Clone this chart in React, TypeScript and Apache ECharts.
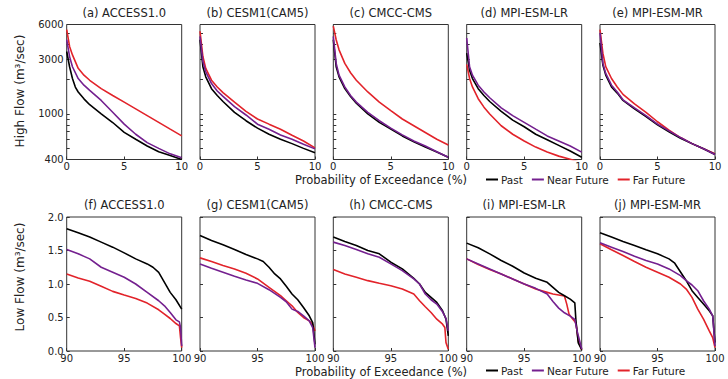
import React, { useEffect, useRef } from "react";
import * as echarts from "echarts";

// ---------- labels ----------
const SERIES_NAMES = ["Past", "Near Future", "Far Future"];
const HIGH_TITLES = ["(a) ACCESS1.0", "(b) CESM1(CAM5)", "(c) CMCC-CMS", "(d) MPI-ESM-LR", "(e) MPI-ESM-MR"];
const LOW_TITLES = ["(f) ACCESS1.0", "(g) CESM1(CAM5)", "(h) CMCC-CMS", "(i) MPI-ESM-LR", "(j) MPI-ESM-MR"];
const HIGH_Y_LABELS = [400, 1000, 3000, 6000];
const HIGH_Y_TICKS = [400, 500, 600, 700, 800, 900, 1000, 2000, 3000, 4000, 5000, 6000];
const LOW_Y_LABELS = [0, 0.5, 1, 1.5, 2];

// ---------- high flow (x: probability %, y: m3/sec) ----------
const aPast = [[0, 3490], [0.25, 2570], [0.5, 2030], [0.75, 1710], [1, 1550], [1.5, 1350], [2, 1200], [3, 1000], [4, 840], [5, 690], [6, 600], [7, 525], [8, 467], [9, 434], [10, 400]];
const aNear = [[0, 4420], [0.25, 3150], [0.5, 2570], [1, 2030], [1.5, 1775], [2, 1600], [3, 1307], [4, 1031], [5, 813], [6, 664], [7, 561], [8, 500], [9, 448], [10, 414]];
const aFar = [[0, 5420], [0.25, 3860], [0.5, 3260], [1, 2490], [1.5, 2170], [2, 1960], [3, 1657], [4, 1446], [5, 1264], [6, 1105], [7, 965], [8, 842], [9, 735], [10, 642]];

const bPast = [[0, 4420], [0.25, 2570], [0.5, 2100], [1, 1657], [1.5, 1446], [2, 1280], [3, 1031], [4, 871], [5, 750], [6, 664], [7, 600], [8, 550], [9, 500], [10, 457]];
const bNear = [[0, 4730], [0.25, 2850], [0.5, 2325], [1, 1834], [1.5, 1580], [2, 1418], [3, 1157], [4, 977], [5, 813], [6, 735], [7, 655], [8, 600], [9, 542], [10, 495]];
const bFar = [[0, 5240], [0.25, 3155], [0.5, 2489], [1, 1963], [1.5, 1714], [2, 1528], [3, 1264], [4, 1052], [5, 901], [6, 813], [7, 735], [8, 651], [9, 580], [10, 505]];

const cPast = [[0, 4420], [0.25, 2570], [0.5, 2100], [1, 1657], [1.5, 1418], [2, 1239], [3, 997], [4, 842], [5, 735], [6, 642], [7, 572], [8, 513], [9, 464], [10, 419]];
const cNear = [[0, 4730], [0.25, 2750], [0.5, 2170], [1, 1714], [1.5, 1446], [2, 1264], [3, 1031], [4, 871], [5, 750], [6, 655], [7, 580], [8, 524], [9, 467], [10, 419]];
const cFar = [[0, 5800], [0.25, 4420], [0.5, 3610], [1, 2750], [1.5, 2280], [2, 1963], [3, 1550], [4, 1264], [5, 1067], [6, 901], [7, 787], [8, 687], [9, 600], [10, 535]];

const dPast = [[0, 3380], [0.25, 2400], [0.5, 2030], [1, 1657], [1.5, 1446], [2, 1280], [3, 1052], [4, 882], [5, 771], [6, 664], [7, 594], [8, 531], [9, 474], [10, 419]];
const dNear = [[0, 4580], [0.25, 2570], [0.5, 2170], [1, 1775], [1.5, 1550], [2, 1380], [3, 1126], [4, 965], [5, 842], [6, 735], [7, 642], [8, 580], [9, 524], [10, 464]];
const dFar = [[0, 2700], [0.25, 2030], [0.5, 1714], [1, 1354], [1.5, 1143], [2, 997], [3, 787], [4, 664], [5, 580], [6, 513], [7, 464], [8, 428], [9, 402], [10, 375]];

const ePast = [[0, 4140], [0.25, 2665], [0.5, 2173], [1, 1714], [1.5, 1516], [2, 1307], [3, 1105], [4, 945], [5, 803], [6, 696], [7, 612], [8, 550], [9, 497], [10, 442]];
const eNear = [[0, 5070], [0.25, 2750], [0.5, 2247], [1, 1775], [1.5, 1550], [2, 1325], [3, 1126], [4, 965], [5, 813], [6, 711], [7, 621], [8, 550], [9, 497], [10, 442]];
const eFar = [[0, 5420], [0.25, 3375], [0.5, 2574], [1, 2032], [1.5, 1714], [2, 1477], [3, 1222], [4, 1031], [5, 853], [6, 720], [7, 621], [8, 550], [9, 497], [10, 449]];

// ---------- low flow (x: probability %, y: m3/sec) ----------
const fPast = [[90, 1.825], [91, 1.765], [92, 1.7], [93, 1.625], [94, 1.55], [95, 1.465], [96, 1.375], [97, 1.3], [97.5, 1.25], [98, 1.175], [98.5, 1.025], [99, 0.875], [99.5, 0.765], [100, 0.625]];
const fNear = [[90, 1.515], [91, 1.45], [92, 1.375], [93, 1.25], [94, 1.175], [95, 1.1], [96, 1.0], [97, 0.875], [98, 0.75], [98.5, 0.675], [99, 0.575], [99.5, 0.465], [99.8, 0.435], [99.9, 0.35], [100, 0.075]];
const fFar = [[90, 1.15], [91, 1.09], [92, 1.04], [93, 0.965], [94, 0.89], [95, 0.835], [96, 0.785], [97, 0.715], [98, 0.615], [98.5, 0.55], [99, 0.485], [99.5, 0.41], [99.8, 0.375], [99.9, 0.2], [100, 0.05]];

const gPast = [[90, 1.725], [91, 1.65], [92, 1.585], [93, 1.515], [94, 1.44], [95, 1.375], [95.5, 1.335], [96, 1.25], [96.5, 1.15], [97, 1.075], [97.5, 0.965], [98, 0.85], [98.5, 0.765], [99, 0.65], [99.5, 0.525], [99.8, 0.425], [100, 0.1]];
const gNear = [[90, 1.3], [91, 1.235], [92, 1.175], [93, 1.115], [94, 1.06], [95, 1.01], [96, 0.915], [97, 0.8], [97.5, 0.735], [98, 0.625], [98.5, 0.59], [99, 0.525], [99.5, 0.45], [99.8, 0.35], [100, 0.05]];
const gFar = [[90, 1.39], [91, 1.335], [92, 1.275], [93, 1.225], [94, 1.16], [95, 1.075], [96, 0.95], [97, 0.825], [97.5, 0.75], [98, 0.675], [98.5, 0.575], [99, 0.5], [99.5, 0.45], [99.8, 0.4], [100, 0.3]];

const hPast = [[90, 1.7], [91, 1.635], [92, 1.575], [93, 1.5], [94, 1.45], [95, 1.325], [96, 1.225], [97, 1.085], [97.5, 1.0], [98, 0.875], [98.5, 0.8], [99, 0.725], [99.5, 0.6], [99.8, 0.475], [100, 0.225]];
const hNear = [[90, 1.625], [91, 1.575], [92, 1.515], [93, 1.45], [94, 1.4], [95, 1.3], [96, 1.2], [97, 1.075], [97.5, 1.0], [98, 0.85], [98.5, 0.765], [99, 0.7], [99.5, 0.585], [99.8, 0.485], [100, 0.3]];
const hFar = [[90, 1.215], [91, 1.15], [92, 1.1], [93, 1.05], [94, 1.01], [95, 0.975], [96, 0.925], [97, 0.85], [97.5, 0.75], [98, 0.66], [98.5, 0.575], [99, 0.475], [99.5, 0.4], [99.7, 0.35], [99.8, 0.125], [100, 0.025]];

const iPast = [[90, 1.61], [91, 1.54], [92, 1.45], [93, 1.35], [94, 1.265], [95, 1.165], [96, 1.085], [97, 1.025], [97.5, 0.95], [98, 0.875], [98.5, 0.825], [99, 0.775], [99.4, 0.72], [99.5, 0.45], [99.7, 0.12], [100, 0.02]];
const iNear = [[90, 1.375], [91, 1.3], [92, 1.225], [93, 1.15], [94, 1.075], [95, 1.0], [96, 0.935], [97, 0.85], [97.5, 0.74], [98, 0.64], [98.5, 0.57], [99, 0.52], [99.4, 0.47], [99.6, 0.3], [100, 0.03]];
const iFar = [[90, 1.375], [91, 1.29], [92, 1.215], [93, 1.15], [94, 1.075], [95, 1.0], [96, 0.925], [97, 0.875], [97.5, 0.85], [98, 0.835], [98.5, 0.82], [98.7, 0.7], [98.9, 0.55], [99.2, 0.48], [99.5, 0.42], [99.7, 0.15], [100, 0.02]];

const jPast = [[90, 1.765], [91, 1.7], [92, 1.635], [93, 1.575], [94, 1.51], [95, 1.45], [96, 1.375], [96.5, 1.31], [97, 1.18], [97.5, 1.05], [98, 0.9], [98.5, 0.8], [99, 0.7], [99.5, 0.6], [99.8, 0.525], [100, 0.125]];
const jNear = [[90, 1.615], [91, 1.55], [92, 1.485], [93, 1.415], [94, 1.35], [95, 1.3], [96, 1.225], [97, 1.125], [97.5, 1.05], [98, 0.985], [98.5, 0.9], [99, 0.75], [99.5, 0.625], [99.8, 0.525], [100, 0.075]];
const jFar = [[90, 1.6], [91, 1.51], [92, 1.425], [93, 1.335], [94, 1.25], [95, 1.175], [96, 1.1], [97, 1.0], [97.5, 0.925], [98, 0.8], [98.5, 0.625], [99, 0.475], [99.5, 0.3], [99.8, 0.2], [100, 0.05]];

const HIGH_PANELS = [
  [aPast, aNear, aFar],
  [bPast, bNear, bFar],
  [cPast, cNear, cFar],
  [dPast, dNear, dFar],
  [ePast, eNear, eFar],
];
const LOW_PANELS = [
  [fPast, fNear, fFar],
  [gPast, gNear, gFar],
  [hPast, hNear, hFar],
  [iPast, iNear, iFar],
  [jPast, jNear, jFar],
];

const COLORS = ["#000000", "#74208f", "#e2232a"];
const FONT = "DejaVu Sans";
const PANEL_LEFT = [66.7, 200, 333.3, 466.7, 600];
const PANEL_W = 115;
const TOP_ROW = { top: 24.5, height: 135 };
const BOT_ROW = { top: 217, height: 134 };

const lg = (v: number) => Math.log10(v);

function buildOption() {
  const grid: any[] = [];
  const xAxis: any[] = [];
  const yAxis: any[] = [];
  const series: any[] = [];
  const title: any[] = [];

  for (let row = 0; row < 2; row++) {
    const r = row === 0 ? TOP_ROW : BOT_ROW;
    for (let p = 0; p < 5; p++) {
      const idx = row * 5 + p;
      grid.push({
        left: PANEL_LEFT[p],
        top: r.top,
        width: PANEL_W,
        height: r.height,
        show: true,
        borderColor: "#333",
        borderWidth: 1,
        backgroundColor: "transparent",
        containLabel: false,
      });
      title.push({
        text: row === 0 ? HIGH_TITLES[p] : LOW_TITLES[p],
        left: PANEL_LEFT[p] + PANEL_W / 2,
        top: r.top - 18,
        textAlign: "center",
        textStyle: { fontFamily: FONT, fontSize: 11.5, fontWeight: "normal", color: "#222" },
        padding: 0,
      });
      xAxis.push({
        type: "value",
        gridIndex: idx,
        min: row === 0 ? 0 : 90,
        max: row === 0 ? 10 : 100,
        interval: 5,
        axisLine: { show: false },
        axisTick: { show: true, inside: true, length: 3, lineStyle: { color: "#333" } },
        splitLine: { show: false },
        axisLabel: { fontFamily: FONT, fontSize: 10, color: "#222", margin: 2 },
      });
      if (row === 0) {
        yAxis.push({
          type: "value",
          gridIndex: idx,
          min: lg(400),
          max: lg(6000),
          axisLine: { show: false },
          splitLine: { show: false },
          axisTick: {
            show: true,
            inside: true,
            length: 3,
            lineStyle: { color: "#333" },
            customValues: HIGH_Y_TICKS.map(lg),
          },
          axisLabel: {
            show: p === 0,
            customValues: HIGH_Y_LABELS.map(lg),
            formatter: (v: number) => String(Math.round(Math.pow(10, v))),
            fontFamily: FONT,
            fontSize: 10,
            color: "#222",
            margin: 3,
          },
        });
      } else {
        yAxis.push({
          type: "value",
          gridIndex: idx,
          min: 0,
          max: 2,
          interval: 0.5,
          axisLine: { show: false },
          splitLine: { show: false },
          axisTick: { show: true, inside: true, length: 3, lineStyle: { color: "#333" } },
          axisLabel: {
            show: p === 0,
            customValues: LOW_Y_LABELS,
            formatter: (v: number) => v.toFixed(1),
            fontFamily: FONT,
            fontSize: 10,
            color: "#222",
            margin: 3,
          },
        });
      }
      const panel = row === 0 ? HIGH_PANELS[p] : LOW_PANELS[p];
      panel.forEach((pts, k) => {
        series.push({
          type: "line",
          name: SERIES_NAMES[k],
          xAxisIndex: idx,
          yAxisIndex: idx,
          data: pts.map(([x, y]) => [x, row === 0 ? lg(y) : y]),
          showSymbol: false,
          symbol: "none",
          clip: true,
          lineStyle: { color: COLORS[k], width: 1.6 },
          itemStyle: { color: COLORS[k] },
          z: k === 0 ? 4 : 3 - k + 2,
        });
      });
    }
  }

  const legendBase = {
    data: SERIES_NAMES,
    orient: "horizontal",
    left: 486,
    icon: "rect",
    itemWidth: 12,
    itemHeight: 2,
    itemGap: 9,
    selectedMode: false,
    padding: 0,
    textStyle: { fontFamily: FONT, fontSize: 10.5, color: "#222", padding: [0, 0, 0, -2] },
  };

  return {
    animation: false,
    backgroundColor: "#ffffff",
    textStyle: { fontFamily: FONT },
    title,
    grid,
    xAxis,
    yAxis,
    series,
    legend: [
      { ...legendBase, top: 174 },
      { ...legendBase, top: 365 },
    ],
    graphic: [
      {
        type: "text",
        x: 20,
        y: 91,
        rotation: Math.PI / 2,
        style: { text: "High Flow (m³/sec)", font: `12px "${FONT}"`, fill: "#222", align: "center", verticalAlign: "middle" },
      },
      {
        type: "text",
        x: 20,
        y: 277,
        rotation: Math.PI / 2,
        style: { text: "Low Flow (m³/sec)", font: `12px "${FONT}"`, fill: "#222", align: "center", verticalAlign: "middle" },
      },
      {
        type: "text",
        x: 381,
        y: 180,
        style: { text: "Probability of Exceedance (%)", font: `11.5px "${FONT}"`, fill: "#222", align: "center", verticalAlign: "middle" },
      },
      {
        type: "text",
        x: 381,
        y: 371.5,
        style: { text: "Probability of Exceedance (%)", font: `11.5px "${FONT}"`, fill: "#222", align: "center", verticalAlign: "middle" },
      },
    ],
  };
}

export default function App() {
  const ref = useRef<HTMLDivElement>(null);
  useEffect(() => {
    if (!ref.current) return;
    const chart = echarts.init(ref.current, undefined, { renderer: "svg" });
    chart.setOption(buildOption() as any);
    return () => chart.dispose();
  }, []);
  return (
    <div
      ref={ref}
      style={{ position: "absolute", left: 0, top: 0, width: 728, height: 379, background: "#fff" }}
    />
  );
}
